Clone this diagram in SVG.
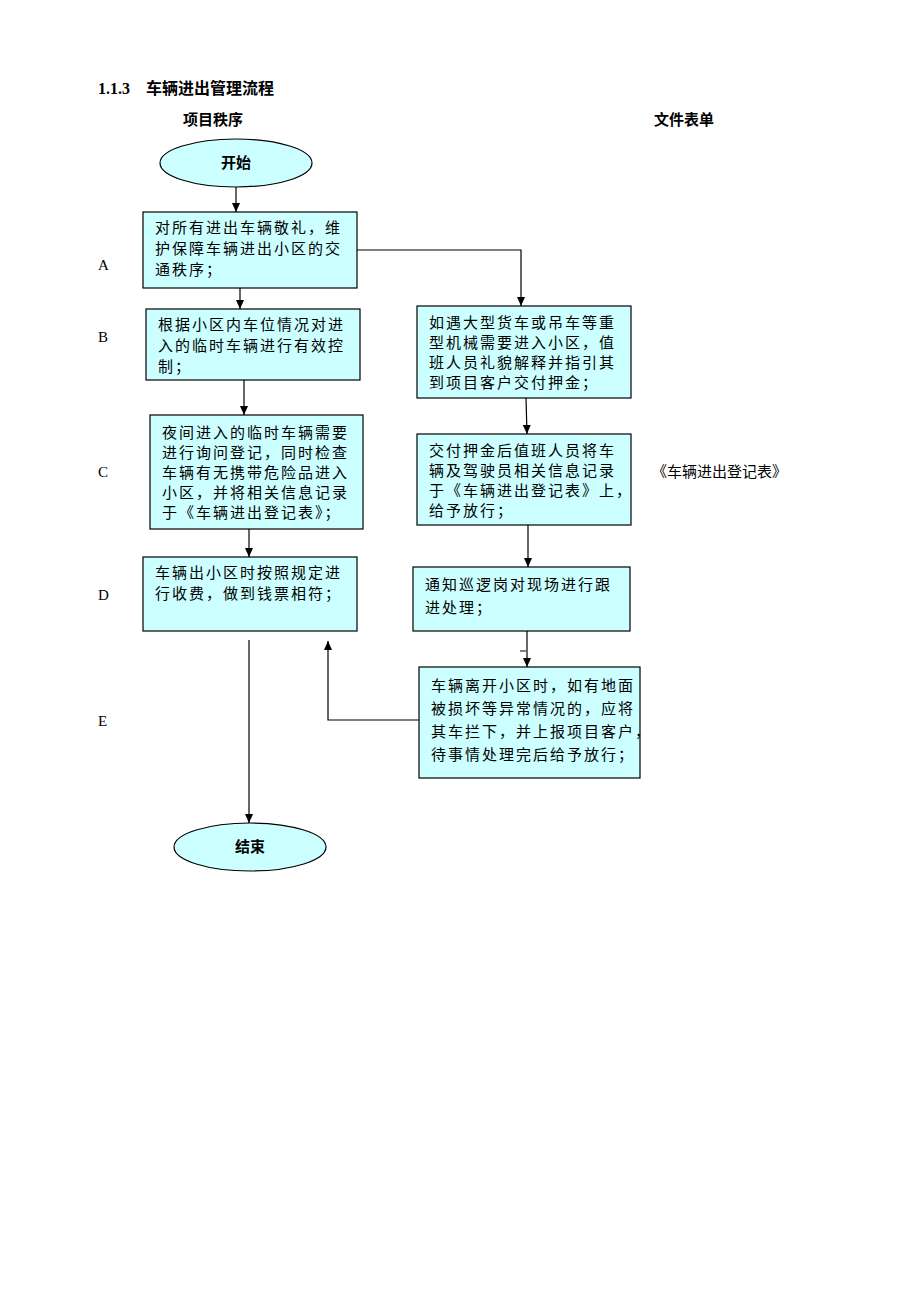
<svg xmlns="http://www.w3.org/2000/svg" width="920" height="1302" viewBox="0 0 920 1302">
<style>
text{font-family:"Liberation Serif","Noto Sans CJK SC",serif;font-size:15px;fill:#000}
.t{letter-spacing:2px}
.b{font-weight:bold}
.n{fill:#ccffff;stroke:#000;stroke-width:1.2}
.c{fill:none;stroke:#000;stroke-width:1.2;marker-end:url(#a)}
</style>
<defs><marker id="a" markerWidth="10" markerHeight="10" refX="9" refY="5" orient="auto" markerUnits="userSpaceOnUse"><path d="M0,1 L9,5 L0,9 z" fill="#000"/></marker></defs>
<rect width="920" height="1302" fill="#fff"/>
<text x="98" y="94" class="b" style="font-size:16px">1.1.3　车辆进出管理流程</text>
<text x="183" y="125" class="b">项目秩序</text>
<text x="654" y="125" class="b">文件表单</text>
<text x="98" y="270">A</text><text x="98" y="342">B</text><text x="98" y="477">C</text><text x="98" y="600">D</text><text x="98" y="726">E</text>
<text x="652" y="477">《车辆进出登记表》</text>
<g id="start"><ellipse class="n" cx="236" cy="163" rx="76" ry="24"/><text x="236" y="168" text-anchor="middle" class="b">开始</text></g>
<g id="nA"><rect class="n" x="143" y="212" width="214" height="76"/><text class="t" x="155"><tspan x="155" y="233">对所有进出车辆敬礼，维</tspan><tspan x="155" y="254">护保障车辆进出小区的交</tspan><tspan x="155" y="275">通秩序；</tspan></text></g>
<g id="nB"><rect class="n" x="146" y="309" width="214" height="71"/><text class="t"><tspan x="158" y="330">根据小区内车位情况对进</tspan><tspan x="158" y="351">入的临时车辆进行有效控</tspan><tspan x="158" y="372">制；</tspan></text></g>
<g id="nC"><rect class="n" x="150" y="415" width="213" height="114"/><text class="t"><tspan x="162" y="438">夜间进入的临时车辆需要</tspan><tspan x="162" y="458">进行询问登记，同时检查</tspan><tspan x="162" y="478">车辆有无携带危险品进入</tspan><tspan x="162" y="498">小区，并将相关信息记录</tspan><tspan x="162" y="518">于《车辆进出登记表》；</tspan></text></g>
<g id="nD"><rect class="n" x="143" y="557" width="214" height="74"/><text class="t"><tspan x="155" y="578">车辆出小区时按照规定进</tspan><tspan x="155" y="599">行收费，做到钱票相符；</tspan></text></g>
<g id="r1"><rect class="n" x="417" y="306" width="214" height="92"/><text class="t"><tspan x="429" y="328">如遇大型货车或吊车等重</tspan><tspan x="429" y="348">型机械需要进入小区，值</tspan><tspan x="429" y="368">班人员礼貌解释并指引其</tspan><tspan x="429" y="388">到项目客户交付押金；</tspan></text></g>
<g id="r2"><rect class="n" x="417" y="434" width="214" height="91"/><text class="t"><tspan x="429" y="456">交付押金后值班人员将车</tspan><tspan x="429" y="476">辆及驾驶员相关信息记录</tspan><tspan x="429" y="496">于《车辆进出登记表》上，</tspan><tspan x="429" y="516">给予放行；</tspan></text></g>
<g id="r3"><rect class="n" x="413" y="567" width="217" height="64"/><text class="t"><tspan x="425" y="590">通知巡逻岗对现场进行跟</tspan><tspan x="425" y="613">进处理；</tspan></text></g>
<g id="r4"><rect class="n" x="419" y="667" width="221" height="111"/><text class="t"><tspan x="431" y="691">车辆离开小区时，如有地面</tspan><tspan x="431" y="714">被损坏等异常情况的，应将</tspan><tspan x="431" y="737">其车拦下，并上报项目客户，</tspan><tspan x="431" y="760">待事情处理完后给予放行；</tspan></text></g>
<g id="end"><ellipse class="n" cx="250" cy="847" rx="76" ry="24"/><text x="250" y="852" text-anchor="middle" class="b">结束</text></g>
<g id="connectors">
<path class="c" d="M236,187 V212"/>
<path class="c" d="M357,250 H521 V306"/>
<path class="c" d="M240,288 V309"/>
<path class="c" d="M244,380 V415"/>
<path class="c" d="M249,529 V557"/>
<path class="c" d="M526,398 L527,434"/>
<path class="c" d="M528,525 V567"/>
<path class="c" d="M527,631 V667"/>
<path d="M520,651 H526" stroke="#000" stroke-width="1"/>
<path class="c" d="M249,640 V823"/>
<path class="c" d="M419,720 H328 V641"/>
</g>
</svg>
